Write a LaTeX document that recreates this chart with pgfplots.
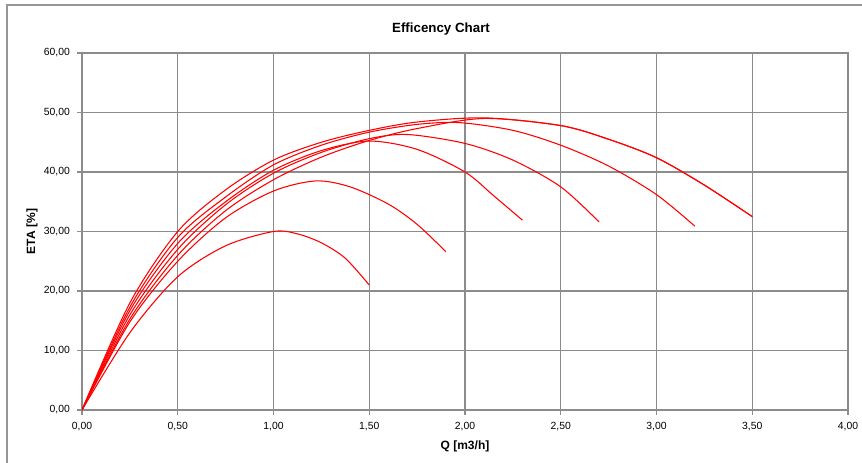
\documentclass[border=0pt]{standalone}
\usepackage{pgfplots}
\pgfplotsset{compat=1.18}
\usepackage{fontspec}
\setmainfont{Liberation Sans}
\definecolor{gridgray}{RGB}{140,140,140}
\definecolor{framegray}{RGB}{150,150,150}
\tikzset{eff/.style={red, solid, line width=0.8pt, smooth, mark=none}}
\begin{document}
\begin{tikzpicture}
\useasboundingbox (-61.5pt,-39.75pt) rectangle (585pt,307.5pt);
\draw[line width=1.1pt, framegray] (-56.25pt,-45pt) -- (-56.25pt,303.75pt) -- (590pt,303.75pt);
\begin{axis}[
  at={(0pt,0pt)}, anchor=south west,
  scale only axis, width=574.5pt, height=267.75pt,
  xmin=0, xmax=4, ymin=0, ymax=60,
  xtick={0,0.5,...,4}, ytick={0,10,...,60},
  grid=major,
  grid style={gridgray, line width=1.1pt},
  axis line style={gridgray, line width=1.1pt},
  tick style={gridgray, line width=1pt},
  tick align=outside, tick pos=left, major tick length=3.5pt,
  ticklabel style={font=\fontsize{7.8}{9}\selectfont},
  xticklabel style={yshift=-2pt},
  yticklabel style={xshift=-2pt},
  /pgf/number format/.cd, fixed, fixed zerofill, precision=2, use comma, assume math mode=true,
  /pgfplots/.cd,
  title={Efficency Chart},
  every axis title/.style={at={(axis description cs:0.4687,1.0672)}, anchor=center, font=\bfseries\fontsize{10}{12}\selectfont},
  xlabel={Q [m3/h]},
  xlabel style={at={(axis description cs:0.5,-0.1008)}, anchor=center, font=\bfseries\fontsize{9}{11}\selectfont},
  ylabel={ETA [\%]},
  ylabel style={at={(axis description cs:-0.0653,0.5)}, anchor=center, font=\bfseries\fontsize{9}{11}\selectfont},
]
% A
\addplot[eff] coordinates {(0,0)(0.25,13)(0.5,22.4)(0.75,27.6)(1.0,30)(1.125,29.6)(1.25,28.1)(1.375,25.5)(1.5,21)};
% B
\addplot[eff] coordinates {(0,0)(0.25,14.8)(0.5,25)(0.75,32.3)(1.0,36.8)(1.22,38.5)(1.4,37.5)(1.6,34.6)(1.75,31.2)(1.9,26.6)};
% C
\addplot[eff] coordinates {(0,0)(0.25,16.7)(0.5,28)(0.75,35)(1.0,40.3)(1.25,43.6)(1.5,45.2)(1.75,43.8)(2.0,40)(2.15,36)(2.3,31.9)};
% D
\addplot[eff] coordinates {(0,0)(0.25,16)(0.5,27)(0.75,34.5)(1.0,39.8)(1.25,43.3)(1.5,45.6)(1.7,46.3)(2.0,44.8)(2.25,42)(2.5,37.5)(2.7,31.6)};
% E
\addplot[eff] coordinates {(0,0)(0.25,17.3)(0.5,29)(0.75,35.8)(1.0,41.2)(1.25,44.5)(1.5,46.7)(1.75,48)(1.97,48.3)(2.25,47)(2.5,44.5)(2.75,41)(3.0,36.2)(3.2,30.9)};
% F1
\addplot[eff] coordinates {(0,0)(0.25,18)(0.5,30)(0.75,37)(1.0,42)(1.25,45)(1.5,47)(1.75,48.4)(2.1,49.1)(2.5,47.8)(2.75,45.5)(3.0,42.4)(3.25,37.8)(3.5,32.5)};
% F2
\addplot[eff] coordinates {(0,0)(0.25,15.3)(0.5,26)(0.75,33.5)(1.0,38.7)(1.25,42.5)(1.5,45.3)(1.75,47.3)(2.1,49)(2.5,47.8)(2.75,45.5)(3.0,42.4)(3.25,37.8)(3.5,32.5)};
\end{axis}
\end{tikzpicture}
\end{document}
